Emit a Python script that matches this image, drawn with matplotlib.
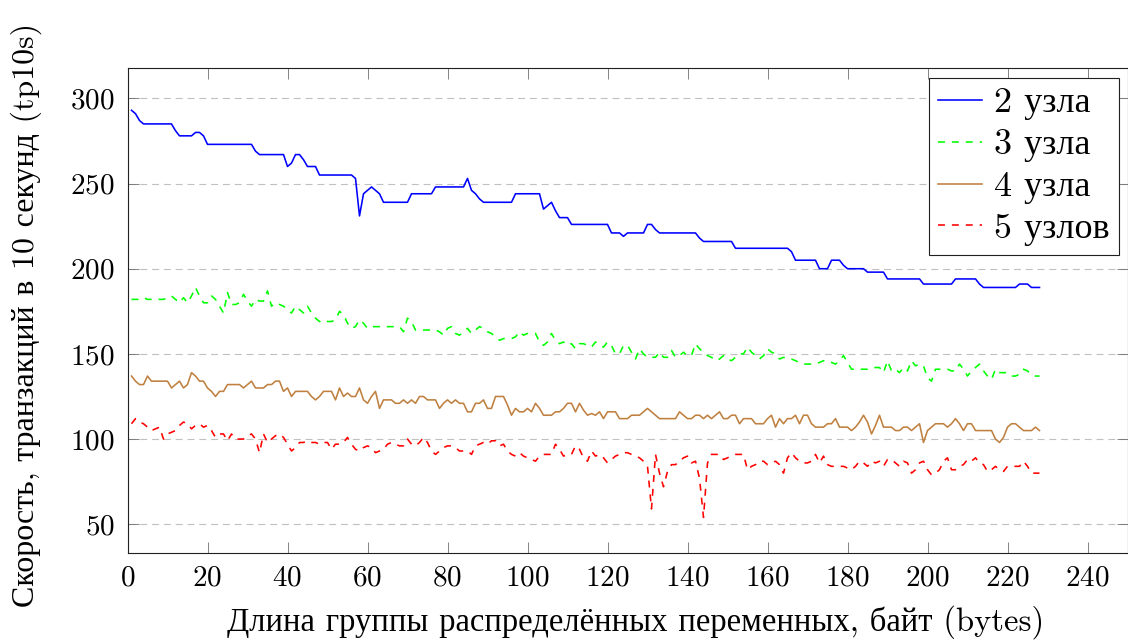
import matplotlib
matplotlib.use("Agg")
import matplotlib.pyplot as plt
import numpy as np

plt.rcParams['font.family'] = ['cmr10', 'Liberation Serif', 'DejaVu Serif']
plt.rcParams['axes.formatter.use_mathtext'] = True
plt.rcParams['lines.scale_dashes'] = False

x_vals = list(range(1, 229))

nodes2 = [
    293, 291, 287, 285, 285, 285, 285, 285, 285, 285,
    285, 281, 278, 278, 278, 278, 280, 280, 278, 273,
    273, 273, 273, 273, 273, 273, 273, 273, 273, 273,
    273, 269, 267, 267, 267, 267, 267, 267, 267, 260,
    262, 267, 267, 264, 260, 260, 260, 255, 255, 255,
    255, 255, 255, 255, 255, 255, 253, 231, 244, 246,
    248, 246, 244, 239, 239, 239, 239, 239, 239, 239,
    244, 244, 244, 244, 244, 244, 248, 248, 248, 248,
    248, 248, 248, 248, 253, 246, 244, 241, 239, 239,
    239, 239, 239, 239, 239, 239, 244, 244, 244, 244,
    244, 244, 244, 235, 237, 239, 234, 230, 230, 230,
    226, 226, 226, 226, 226, 226, 226, 226, 226, 226,
    221, 221, 221, 219, 221, 221, 221, 221, 221, 226,
    226, 223, 221, 221, 221, 221, 221, 221, 221, 221,
    221, 221, 218, 216, 216, 216, 216, 216, 216, 216,
    216, 212, 212, 212, 212, 212, 212, 212, 212, 212,
    212, 212, 212, 212, 212, 210, 205, 205, 205, 205,
    205, 205, 200, 200, 200, 205, 205, 205, 202, 200,
    200, 200, 200, 200, 198, 198, 198, 198, 198, 194,
    194, 194, 194, 194, 194, 194, 194, 194, 191, 191,
    191, 191, 191, 191, 191, 191, 194, 194, 194, 194,
    194, 194, 191, 189, 189, 189, 189, 189, 189, 189,
    189, 189, 191, 191, 191, 189, 189, 189,
]

nodes3 = [
    182, 182, 182, 183, 182, 182, 182, 182, 182, 183,
    184, 182, 180, 183, 180, 184, 189, 184, 180, 180,
    184, 182, 178, 174, 186, 179, 179, 180, 185, 181,
    178, 182, 181, 181, 187, 178, 180, 179, 178, 176,
    174, 178, 176, 174, 178, 174, 171, 169, 170, 169,
    169, 170, 175, 173, 168, 165, 166, 170, 168, 165,
    166, 166, 166, 166, 166, 166, 166, 166, 163, 171,
    169, 164, 164, 164, 164, 164, 164, 163, 161, 165,
    166, 162, 161, 163, 165, 162, 164, 166, 165, 163,
    162, 160, 158, 159, 159, 159, 160, 163, 161, 162,
    162, 162, 157, 155, 157, 162, 158, 156, 157, 155,
    156, 153, 156, 156, 155, 154, 157, 155, 154, 157,
    155, 150, 150, 155, 155, 151, 147, 153, 150, 148,
    148, 148, 151, 148, 148, 152, 148, 149, 151, 149,
    149, 156, 153, 151, 149, 148, 146, 147, 149, 147,
    146, 148, 150, 150, 154, 151, 149, 147, 149, 153,
    151, 150, 147, 148, 147, 147, 146, 145, 144, 144,
    144, 144, 145, 146, 146, 145, 144, 146, 149, 145,
    141, 141, 141, 141, 141, 142, 142, 142, 139, 146,
    140, 141, 139, 142, 140, 146, 143, 144, 143, 136,
    134, 141, 141, 141, 141, 140, 140, 144, 141, 137,
    140, 142, 144, 140, 137, 135, 141, 139, 139, 139,
    137, 137, 138, 141, 140, 138, 137, 137,
]

nodes4 = [
    137, 134, 132, 132, 137, 134, 134, 134, 134, 134,
    130, 132, 134, 130, 132, 139, 137, 134, 134, 130,
    128, 125, 128, 128, 132, 132, 132, 132, 130, 132,
    134, 130, 130, 130, 132, 132, 134, 134, 128, 130,
    125, 128, 128, 128, 128, 125, 123, 125, 128, 128,
    128, 123, 130, 125, 127, 125, 125, 130, 123, 121,
    125, 128, 118, 123, 123, 123, 121, 121, 123, 121,
    123, 121, 125, 125, 123, 123, 123, 118, 121, 123,
    121, 123, 121, 121, 116, 116, 121, 121, 123, 118,
    118, 125, 125, 125, 120, 114, 118, 116, 116, 118,
    116, 121, 118, 114, 114, 114, 116, 116, 118, 121,
    121, 116, 121, 117, 114, 115, 114, 116, 112, 116,
    116, 116, 112, 112, 112, 114, 114, 114, 116, 118,
    116, 114, 112, 112, 112, 112, 112, 116, 114, 112,
    112, 114, 114, 112, 114, 112, 114, 116, 112, 112,
    114, 114, 109, 112, 112, 112, 109, 109, 109, 112,
    114, 107, 112, 109, 112, 112, 114, 109, 114, 114,
    109, 107, 107, 107, 109, 109, 112, 107, 107, 107,
    105, 107, 110, 114, 110, 103, 108, 114, 107, 107,
    107, 105, 105, 107, 107, 105, 107, 109, 98, 105,
    107, 109, 109, 109, 107, 109, 112, 109, 105, 109,
    109, 105, 105, 105, 105, 105, 100, 98, 101, 107,
    109, 109, 107, 105, 105, 105, 107, 105,
]

nodes5 = [
    109, 112, 110, 109, 107, 105, 106, 107, 100, 103,
    104, 105, 108, 110, 109, 106, 108, 109, 107, 108,
    105, 101, 103, 103, 99, 103, 100, 100, 100, 102,
    103, 100, 92, 103, 98, 100, 102, 103, 101, 97,
    93, 95, 98, 98, 99, 98, 98, 97, 98, 98,
    94, 97, 97, 98, 101, 97, 94, 93, 95, 96,
    95, 92, 93, 94, 97, 98, 97, 96, 96, 100,
    97, 96, 98, 101, 98, 93, 91, 93, 95, 96,
    96, 95, 93, 93, 93, 91, 96, 97, 98, 97,
    99, 99, 96, 97, 93, 91, 90, 92, 90, 89,
    88, 87, 90, 91, 91, 91, 97, 94, 90, 91,
    91, 96, 94, 89, 87, 93, 90, 91, 89, 86,
    88, 90, 91, 92, 92, 91, 90, 89, 87, 84,
    59, 91, 80, 72, 81, 85, 85, 87, 89, 90,
    86, 87, 77, 54, 86, 91, 91, 91, 88, 89,
    90, 91, 91, 91, 82, 84, 85, 87, 87, 85,
    86, 87, 85, 80, 89, 92, 89, 87, 86, 86,
    87, 91, 86, 90, 85, 84, 84, 84, 84, 83,
    82, 84, 87, 86, 84, 87, 86, 87, 84, 88,
    88, 86, 84, 87, 86, 80, 82, 86, 87, 82,
    79, 80, 82, 87, 89, 82, 82, 84, 85, 88,
    87, 89, 86, 85, 81, 82, 84, 82, 81, 84,
    84, 84, 84, 87, 84, 80, 80, 80,
]

series_labels = ['2 узла', '3 узла', '4 узла', '5 узлов']
x_ticks = [0, 20, 40, 60, 80, 100, 120, 140, 160, 180, 200, 220, 240]
y_ticks = [50, 100, 150, 200, 250, 300]

W, H = 1128, 641
fig = plt.figure(figsize=(W / 100, H / 100), dpi=100)
ax = fig.add_axes([127.5 / W, (H - 552.7) / H, (1127.5 - 127.5) / W, (552.7 - 67.7) / H])

lw = 1.15
dash = (0, (5, 5))
ax.plot(x_vals, nodes2, color='#0000ff', lw=lw, label=series_labels[0])
ax.plot(x_vals, nodes3, color='#00ff00', lw=lw, ls=dash, label=series_labels[1])
ax.plot(x_vals, nodes4, color='#bf8040', lw=lw, label=series_labels[2])
ax.plot(x_vals, nodes5, color='#ff0000', lw=lw, ls=dash, label=series_labels[3])

ax.set_xlim(0, 250)
ax.set_ylim(33.3, 318)
ax.set_xticks(x_ticks)
ax.set_yticks(y_ticks)
ax.yaxis.grid(True, color='#c0c0c0', ls=(0, (5, 3.5)), lw=0.8)
ax.set_axisbelow(True)

ax.tick_params(axis='both', which='major', direction='in', length=8, width=0.6,
               color='#707070', top=True, right=True, labelsize=21, pad=9)
for s in ax.spines.values():
    s.set_linewidth(0.8)
    s.set_color('#202020')

ax.set_xlabel('Длина группы распределённых переменных, байт (bytes)', fontsize=23.5)
ax.set_ylabel('Скорость, транзакций в 10 секунд (tp10s)', fontsize=23)
ax.xaxis.set_label_coords(0.508, -0.108)
ax.yaxis.set_label_coords(-0.085, 0.49)

leg = ax.legend(loc='upper right', bbox_to_anchor=(1119 / W, (H - 78) / H),
                bbox_transform=fig.transFigure, fontsize=26, frameon=True,
                fancybox=False, framealpha=1, edgecolor='#202020',
                handlelength=1.22, handletextpad=0.35, borderpad=0.25,
                labelspacing=0.24, borderaxespad=0)
leg.get_frame().set_linewidth(0.8)

fig.savefig('out.png', dpi=100)
